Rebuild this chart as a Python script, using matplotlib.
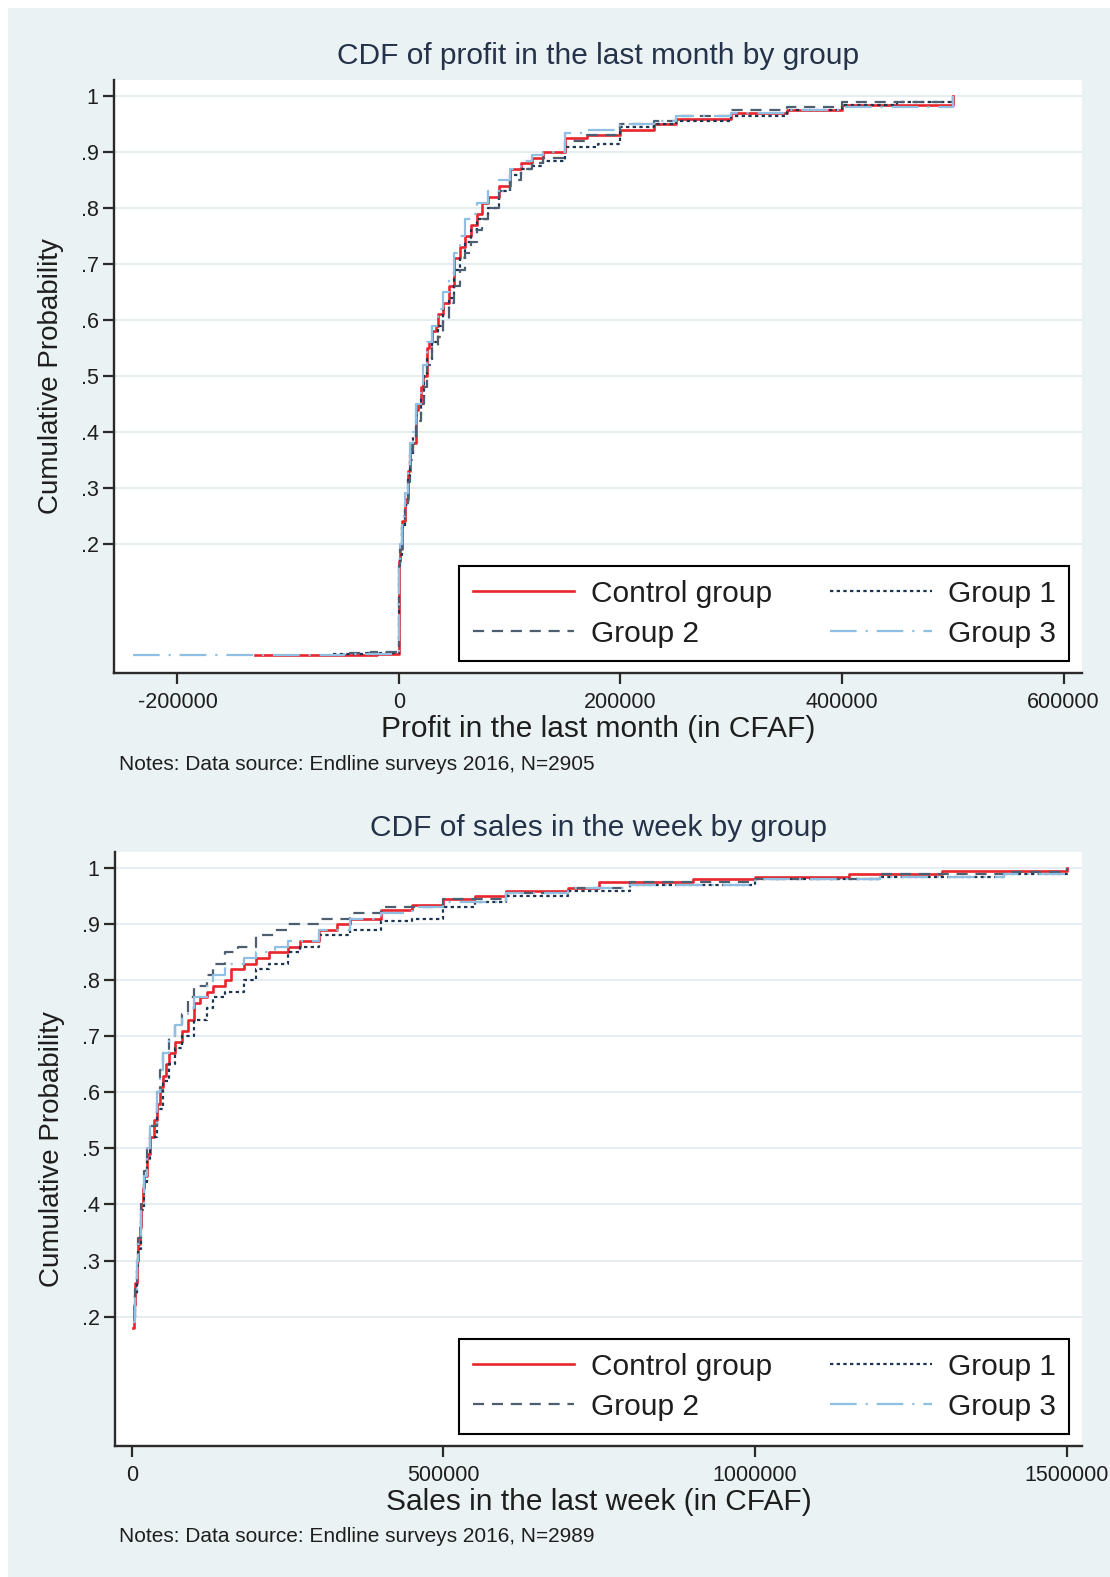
import matplotlib
matplotlib.use("Agg")
import matplotlib.pyplot as plt
from matplotlib.patches import Rectangle

plt.rcParams['font.family'] = ['Liberation Sans', 'DejaVu Sans']

# ---- data (step CDFs) ----
groups = ["Control group", "Group 1", "Group 2", "Group 3"]

# profit in the last month (CFAF)
profit_ctrl_x = [-130000, -120000, -80000, -20000, 0, 1000, 3000, 5000, 8000, 10000, 12000, 15000, 17000,
                 20000, 22000, 25000, 27000, 30000, 33000, 35000, 40000, 45000, 50000, 55000, 60000, 65000,
                 70000, 75000, 80000, 90000, 100000, 110000, 120000, 130000, 150000, 170000, 200000, 230000,
                 250000, 300000, 350000, 400000, 500000]
profit_ctrl_y = [.001, .001, .002, .003, .17, .19, .24, .28, .33, .37, .38, .44, .45,
                 .48, .50, .55, .56, .58, .59, .61, .63, .66, .71, .73, .75, .77,
                 .79, .81, .82, .84, .87, .88, .89, .90, .925, .93, .94, .95,
                 .96, .97, .975, .985, 1.0]

profit_g1_x = [-60000, -30000, 0, 1000, 3000, 5000, 8000, 10000, 13000, 15000, 20000, 23000, 25000,
               30000, 35000, 40000, 45000, 50000, 55000, 60000, 65000, 70000, 80000, 90000, 100000,
               110000, 120000, 130000, 150000, 180000, 200000, 230000, 250000, 300000, 350000, 400000,
               450000, 500000]
profit_g1_y = [.003, .005, .16, .18, .23, .27, .32, .36, .39, .43, .46, .50, .53,
               .56, .59, .62, .64, .69, .71, .74, .76, .78, .80, .83, .86,
               .87, .875, .885, .91, .915, .945, .95, .955, .965, .975, .985,
               .99, 1.0]

profit_g2_x = [-45000, -25000, 0, 1000, 3000, 5000, 8000, 10000, 13000, 15000, 20000, 23000, 25000,
               30000, 35000, 40000, 45000, 50000, 55000, 60000, 65000, 70000, 75000, 80000, 90000,
               100000, 110000, 120000, 130000, 150000, 170000, 200000, 230000, 250000, 300000, 350000,
               400000, 500000]
profit_g2_y = [.004, .006, .16, .19, .23, .27, .31, .35, .38, .42, .45, .48, .52,
               .55, .57, .60, .63, .66, .69, .72, .74, .76, .78, .80, .83,
               .85, .87, .88, .89, .92, .93, .95, .955, .965, .975, .98,
               .99, 1.0]

profit_g3_x = [-240000, -150000, -50000, 0, 1000, 3000, 5000, 8000, 10000, 13000, 15000, 20000, 22000,
               25000, 30000, 35000, 40000, 45000, 50000, 55000, 60000, 65000, 70000, 80000, 90000,
               100000, 110000, 120000, 130000, 150000, 170000, 200000, 230000, 250000, 300000, 350000,
               400000, 500000]
profit_g3_y = [.001, .002, .003, .17, .20, .25, .29, .33, .38, .40, .45, .48, .52,
               .56, .59, .62, .65, .68, .72, .75, .78, .79, .81, .83, .85,
               .87, .885, .895, .90, .935, .94, .95, .955, .965, .97, .975,
               .98, 1.0]

# sales in the last week (CFAF)
sales_ctrl_x = [2000, 4000, 6000, 8000, 10000, 13000, 15000, 18000, 20000, 25000, 30000, 35000, 40000,
                45000, 50000, 55000, 60000, 70000, 80000, 90000, 100000, 110000, 120000, 130000, 150000,
                160000, 180000, 200000, 220000, 250000, 270000, 300000, 330000, 350000, 400000, 450000,
                500000, 550000, 600000, 700000, 750000, 900000, 1000000, 1150000, 1300000, 1500000]
sales_ctrl_y = [.18, .22, .26, .30, .33, .36, .40, .43, .45, .49, .52, .55, .58,
                .61, .63, .65, .67, .69, .71, .73, .76, .77, .78, .79, .80,
                .82, .83, .84, .85, .86, .87, .89, .90, .91, .925, .935,
                .945, .95, .96, .965, .975, .98, .985, .99, .995, 1.0]

sales_g1_x = [3000, 5000, 8000, 10000, 15000, 20000, 25000, 30000, 40000, 50000, 60000, 70000, 80000,
              100000, 120000, 130000, 150000, 180000, 200000, 220000, 250000, 270000, 300000, 350000,
              400000, 450000, 500000, 550000, 600000, 700000, 800000, 1000000, 1200000, 1400000, 1500000]
sales_g1_y = [.20, .24, .29, .32, .39, .44, .48, .52, .57, .62, .65, .68, .70,
              .73, .75, .77, .78, .80, .82, .83, .85, .86, .88, .89,
              .905, .91, .93, .94, .95, .96, .97, .98, .985, .99, 1.0]

sales_g2_x = [3000, 5000, 8000, 10000, 15000, 20000, 25000, 30000, 40000, 45000, 50000, 60000, 70000,
              80000, 90000, 100000, 120000, 130000, 150000, 170000, 200000, 230000, 250000, 300000,
              350000, 400000, 500000, 600000, 700000, 800000, 1000000, 1200000, 1400000, 1500000]
sales_g2_y = [.20, .25, .30, .34, .40, .46, .50, .54, .60, .64, .67, .70, .72,
              .74, .77, .79, .81, .83, .85, .86, .88, .89, .90, .91,
              .92, .93, .945, .955, .965, .975, .98, .99, .993, 1.0]

sales_g3_x = [2000, 5000, 8000, 10000, 15000, 20000, 25000, 30000, 40000, 45000, 50000, 60000, 70000,
              80000, 90000, 100000, 120000, 130000, 150000, 180000, 200000, 230000, 250000, 300000,
              350000, 400000, 450000, 500000, 600000, 700000, 800000, 1000000, 1200000, 1400000, 1500000]
sales_g3_y = [.19, .24, .30, .33, .39, .45, .50, .54, .60, .64, .67, .70, .72,
              .74, .75, .77, .79, .81, .83, .84, .85, .86, .87, .89,
              .91, .92, .93, .94, .955, .965, .97, .98, .985, .99, 1.0]

profit_ticks = [-200000, 0, 200000, 400000, 600000]
sales_ticks = [0, 500000, 1000000, 1500000]
prob_ticks = [.2, .3, .4, .5, .6, .7, .8, .9, 1]
prob_labels = [".2", ".3", ".4", ".5", ".6", ".7", ".8", ".9", "1"]

# ---- styles ----
colors = ["#e8262c", "#1c3553", "#4d5e70", "#8fbfe2"]
dashes = [None, (1.5, 1.5), (5, 3.5), (12, 4, 1, 4)]
widths = [1.9, 1.6, 1.6, 1.6]
panel_bg = "#eaf2f3"
grid_c = "#e4ecef"
text_c = "#1e1e1e"
title_c = "#24324a"

W, H = 1110, 1577
fig = plt.figure(figsize=(W / 100, H / 100), dpi=100, facecolor="white")

# panel background (stata style outer region)
fig.patches.append(Rectangle((8 / W, 0), 1 - 8 / W, 1 - 8 / H, transform=fig.transFigure,
                             facecolor=panel_bg, edgecolor="none", zorder=-10))


def draw_panel(rect, series, xlim, xticks, title, title_y, xlabel, note, note_y):
    ax = fig.add_axes(rect)
    ax.set_facecolor("white")
    for i, (xs, ys) in enumerate(series):
        ln, = ax.plot(xs, ys, drawstyle="steps-post", color=colors[i], lw=widths[i], label=groups[i])
        if dashes[i] is not None:
            ln.set_dashes(dashes[i])
    ax.set_xlim(*xlim)
    ax.set_ylim(-0.031, 1.029)
    ax.set_yticks(prob_ticks)
    ax.set_yticklabels(prob_labels)
    ax.set_xticks(xticks)
    ax.set_xticklabels([str(t) for t in xticks])
    ax.yaxis.grid(True, color=grid_c, lw=1.3)
    ax.set_axisbelow(True)
    for s in ["top", "right"]:
        ax.spines[s].set_visible(False)
    for s in ["left", "bottom"]:
        ax.spines[s].set_color("#2a2a2a")
        ax.spines[s].set_linewidth(1.7)
    ax.tick_params(axis="both", length=8, width=1.6, color="#2a2a2a", labelsize=15.5, labelcolor=text_c)
    ax.tick_params(axis="x", pad=6)
    ax.tick_params(axis="y", pad=3)
    ax.set_ylabel("Cumulative Probability", fontsize=20, color=text_c, labelpad=12)
    ax.set_xlabel(xlabel, fontsize=21.5, color=text_c, labelpad=1)
    h, l = ax.get_legend_handles_labels()
    order = [0, 2, 1, 3]
    leg = ax.legend([h[k] for k in order], [l[k] for k in order], ncol=2, loc="lower right",
                    bbox_to_anchor=(0.987, 0.02), borderaxespad=0, fontsize=21.5, frameon=True,
                    fancybox=False, framealpha=1, edgecolor="black", handlelength=3.4,
                    handletextpad=0.55, columnspacing=1.95, labelspacing=0.4, borderpad=0.45)
    leg.get_frame().set_linewidth(1.5)
    for t in leg.get_texts():
        t.set_color(text_c)
    fig.text(598 / W, 1 - title_y / H, title, ha="center", va="center", fontsize=21.5, color=title_c)
    fig.text(119 / W, 1 - note_y / H, note, ha="left", va="center", fontsize=15, color=text_c)
    return ax


draw_panel([114 / W, 1 - 673 / H, 968 / W, 593 / H],
           [(profit_ctrl_x, profit_ctrl_y), (profit_g1_x, profit_g1_y),
            (profit_g2_x, profit_g2_y), (profit_g3_x, profit_g3_y)],
           (-257300, 616700), profit_ticks,
           "CDF of profit in the last month by group", 56,
           "Profit in the last month (in CFAF)",
           "Notes: Data source: Endline surveys 2016, N=2905", 764)

draw_panel([115 / W, 1 - 1446 / H, 967 / W, 594 / H],
           [(sales_ctrl_x, sales_ctrl_y), (sales_g1_x, sales_g1_y),
            (sales_g2_x, sales_g2_y), (sales_g3_x, sales_g3_y)],
           (-26800, 1524400), sales_ticks,
           "CDF of sales in the week by group", 828,
           "Sales in the last week (in CFAF)",
           "Notes: Data source: Endline surveys 2016, N=2989", 1537)

fig.savefig("out.png", dpi=100, facecolor="white")
